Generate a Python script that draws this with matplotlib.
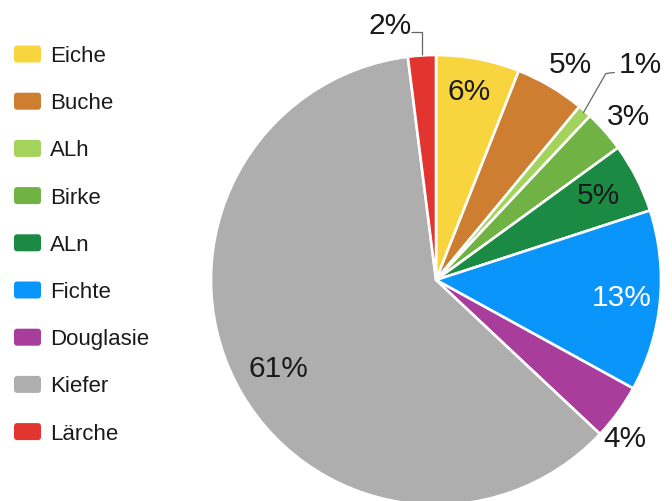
import numpy as np
import matplotlib
matplotlib.use("Agg")
import matplotlib.pyplot as plt
from matplotlib.patches import FancyBboxPatch

plt.rcParams['font.family'] = ['Liberation Sans', 'DejaVu Sans']

# Baumarten-Anteile (%)
species = ["Eiche", "Buche", "ALh", "Birke", "ALn", "Fichte", "Douglasie", "Kiefer", "Lärche"]
shares = [6, 5, 1, 3, 5, 13, 4, 61, 2]
colors = ["#F8D53E", "#CE7E31", "#A3D35B", "#70B244", "#1B8A43",
          "#0A95FB", "#A93D9B", "#AEAEAE", "#E3352F"]

# label placement per slice: radius (in pie radii), angular nudge (deg), text colour
label_radius = [0.86, 1.14, 1.33, 1.13, 0.82, 0.83, 1.09, 0.80, 1.16]
label_nudge = [-1.0, 1.0, 1.8, 0.5, -1.0, -0.8, 3.5, -1.7, -6.5]
label_color = ["#1a1a1a"] * 9
label_color[5] = "white"

W, H = 672, 501
fig = plt.figure(figsize=(W / 100, H / 100), dpi=100)

# pie axes: centre at (436, 280) px, radius 225 px
cx, cy, R = 436, 280, 225
ax = fig.add_axes([(cx - R) / W, (H - cy - R) / H, 2 * R / W, 2 * R / H])
wedges, _ = ax.pie(shares, colors=colors, startangle=90, counterclock=False,
                   radius=1.0, wedgeprops=dict(edgecolor="white", linewidth=1.9))
ax.set_xlim(-1, 1)
ax.set_ylim(-1, 1)
ax.set_aspect("equal")
ax.axis("off")


def polar(angle_deg, r):
    a = np.deg2rad(angle_deg)
    return r * np.cos(a), r * np.sin(a)


for i, w in enumerate(wedges):
    mid = 0.5 * (w.theta1 + w.theta2)
    x, y = polar(mid - label_nudge[i], label_radius[i])
    ax.text(x, y, f"{shares[i]}%", ha="center", va="center_baseline", fontsize=21.5,
            color=label_color[i], clip_on=False)

# leader lines for the two narrow slices
line_kw = dict(color="#666666", lw=0.9, clip_on=False, solid_capstyle="butt")

# Lärche: vertical up from the rim, then left to its label
w = wedges[species.index("Lärche")]
ex, ey = polar(0.5 * (w.theta1 + w.theta2), 1.0)
ax.plot([ex, ex, ex - 0.05], [ey, 1.10, 1.10], **line_kw)

# ALh: diagonal out from the rim, then a short step right to its label
w = wedges[species.index("ALh")]
ex, ey = polar(0.5 * (w.theta1 + w.theta2), 0.99)
ax.plot([ex, ex + 0.10, ex + 0.14], [ey, ey + 0.175, ey + 0.18], **line_kw)

# legend on the left, drawn in pixel coordinates
lax = fig.add_axes([0, 0, 1, 1])
lax.set_xlim(0, W)
lax.set_ylim(H, 0)
lax.axis("off")
row0, step = 54, 47.2
for i, (name, col) in enumerate(zip(species, colors)):
    y = row0 + i * step
    lax.add_patch(FancyBboxPatch((14, y - 8.5), 27, 17,
                                 boxstyle="round,pad=0,rounding_size=3",
                                 facecolor=col, edgecolor="none"))
    lax.text(50, y, name, ha="left", va="center_baseline", fontsize=16, color="#1a1a1a")

fig.savefig("out.png", dpi=100)
